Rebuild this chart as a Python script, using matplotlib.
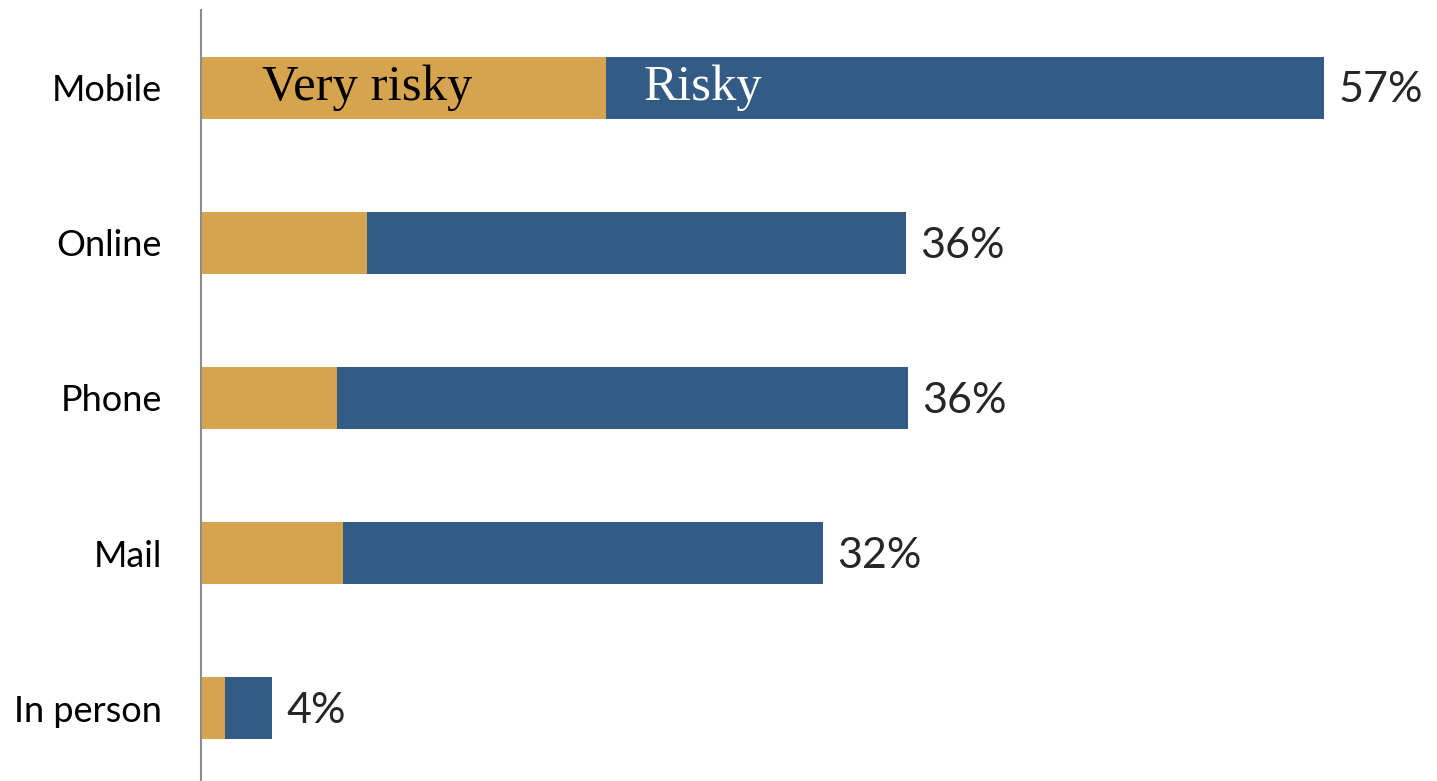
import numpy as np
import matplotlib.pyplot as plt

channels = ['Mobile', 'Online', 'Phone', 'Mail', 'In person']
very_risky = [20.5, 8.4, 6.9, 7.2, 1.2]
risky = [36.4, 27.3, 28.9, 24.3, 2.4]

gold = '#D6A44E'
blue = '#325C86'

fig = plt.figure(figsize=(14.37, 7.81), dpi=100)
ax = fig.add_axes([201/1437, -0.006, 1 - 201/1437, 0.993])

y = np.arange(len(channels))
ax.barh(y, very_risky, height=0.4, color=gold)
ax.barh(y, risky, left=very_risky, height=0.4, color=blue)

# total labels at the end of each bar
totals = np.array(very_risky) + np.array(risky)
for yi, t in zip(y, totals):
    ax.annotate(f'{t:.0f}%', (t, yi), xytext=(10, -2), textcoords='offset points',
                va='center', ha='left', fontsize=31, family='Lato', color='#262626')

# series names written inside the top bar
ax.text(3.1, 0, 'Very risky', va='center', ha='left', fontsize=36.5,
        family='Liberation Serif', color='black')
ax.text(22.4, 0, 'Risky', va='center', ha='left', fontsize=36.5,
        family='Liberation Serif', color='white')

ax.set_xlim(0, 62.6)
ax.set_ylim(4.5, -0.5)
ax.set_yticks(y)
ax.set_yticklabels(channels, fontsize=26, family='Lato', color='black')
ax.tick_params(axis='y', length=0, pad=28)
ax.set_xticks([])
for s in ['top', 'right', 'bottom']:
    ax.spines[s].set_visible(False)
ax.spines['left'].set_color('#8c8c8c')
ax.spines['left'].set_linewidth(1.5)

fig.savefig('out.png', dpi=100)
